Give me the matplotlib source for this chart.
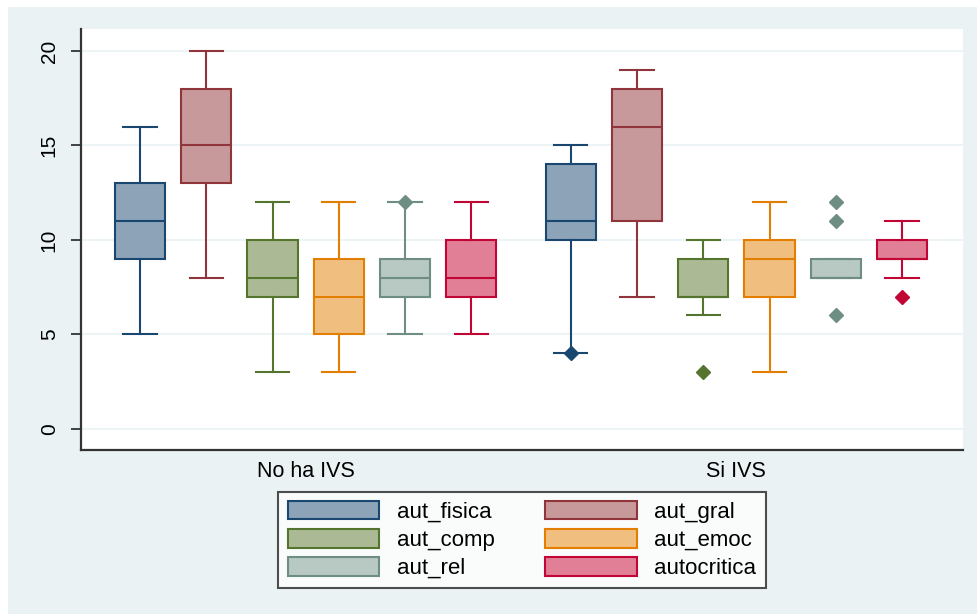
import matplotlib
matplotlib.use("Agg")
import matplotlib.pyplot as plt
from matplotlib.patches import Patch, Rectangle

plt.rcParams['font.family'] = ['Liberation Sans', 'DejaVu Sans']

groups = ['No ha IVS', 'Si IVS']
variables = ['aut_fisica', 'aut_gral', 'aut_comp', 'aut_emoc', 'aut_rel', 'autocritica']
fills = ['#8CA3B8', '#C8999B', '#ABBA95', '#F0BF80', '#B8C8C2', '#E07F96']
edges = ['#1A476F', '#90353B', '#55752F', '#E37E00', '#6E8E84', '#C10534']

# box stats per group, one entry per variable
q1 = [[9, 13, 7, 5, 7, 7], [10, 11, 7, 7, 8, 9]]
med = [[11, 15, 8, 7, 8, 8], [11, 16, 7, 9, 8, 9]]
q3 = [[13, 18, 10, 9, 9, 10], [14, 18, 9, 10, 9, 10]]
whislo = [[5, 8, 3, 3, 5, 5], [4, 7, 6, 3, 8, 8]]
whishi = [[16, 20, 12, 12, 12, 12], [15, 19, 10, 12, 9, 11]]
fliers = [[[], [], [], [], [12], []], [[4], [], [3], [], [12, 11, 6], [7]]]

bg = '#EAF2F3'
fig = plt.figure(figsize=(9.77, 6.14), dpi=100)
fig.patches.append(Rectangle((8 / 977, 0), 1, 1 - 7 / 614, transform=fig.transFigure,
                             facecolor=bg, edgecolor='none', zorder=-10))
ax = fig.add_axes([81 / 977, 1 - 450 / 614, (963 - 81) / 977, (450 - 29) / 614])
ax.set_facecolor('white')

for g in range(len(groups)):
    offset = 0 if g == 0 else 6.5
    for i, v in enumerate(variables):
        st = [dict(med=med[g][i], q1=q1[g][i], q3=q3[g][i], whislo=whislo[g][i],
                   whishi=whishi[g][i], fliers=fliers[g][i], label=v)]
        ec = edges[i]
        ax.bxp(st, positions=[offset + i], widths=0.76, capwidths=0.5, patch_artist=True,
               boxprops=dict(facecolor=fills[i], edgecolor=ec, linewidth=1.5),
               medianprops=dict(color=ec, linewidth=1.5),
               whiskerprops=dict(color=ec, linewidth=1.5),
               capprops=dict(color=ec, linewidth=1.5),
               flierprops=dict(marker='D', markersize=7.5, markerfacecolor=ec,
                               markeredgecolor=ec),
               manage_ticks=False)

ax.set_xlim(-0.89, 12.42)
ax.set_ylim(-1.12, 21.16)
ax.set_yticks([0, 5, 10, 15, 20])
ax.set_yticklabels(['0', '5', '10', '15', '20'], rotation=90, va='center', fontsize=15)
ax.set_xticks([2.5, 9])
ax.set_xticklabels(groups, fontsize=15.5)
ax.tick_params(axis='x', length=0, pad=8)
ax.tick_params(axis='y', length=7, width=1.2, color='#222222', pad=9)
ax.yaxis.grid(True, color=bg, linewidth=1.2)
ax.set_axisbelow(True)
for s in ['top', 'right']:
    ax.spines[s].set_visible(False)
for s in ['left', 'bottom']:
    ax.spines[s].set_color('#333333')
    ax.spines[s].set_linewidth(1.6)

handles = [Patch(facecolor=fills[i], edgecolor=edges[i], linewidth=1.5, label=variables[i])
           for i in [0, 2, 4, 1, 3, 5]]
leg = fig.legend(handles=handles, ncol=2, loc='center', bbox_to_anchor=(522 / 977, 1 - 540 / 614),
                 fontsize=16, frameon=True, fancybox=False, edgecolor='#222222',
                 handlelength=4.1, handleheight=0.9, handletextpad=0.8, columnspacing=2.3,
                 labelspacing=0.28, borderpad=0.42, borderaxespad=0)
leg.get_frame().set_linewidth(1.5)

fig.savefig('out.png', dpi=100, facecolor='white')
